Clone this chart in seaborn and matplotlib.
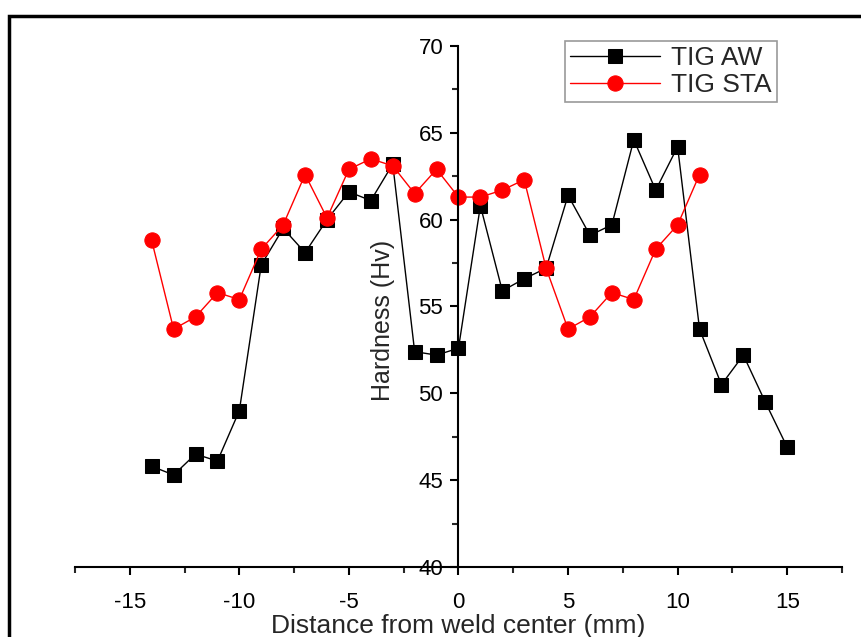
import numpy as np
import pandas as pd
import matplotlib
matplotlib.use("Agg")
import matplotlib.pyplot as plt
import seaborn as sns
from matplotlib.patches import Rectangle
from matplotlib.ticker import MultipleLocator

# Data
aw_distance = list(range(-14, 16))
aw_hardness = [45.8, 45.3, 46.5, 46.1, 49.0, 57.4, 59.5, 58.1, 60.0, 61.6,
               61.1, 63.2, 52.4, 52.2, 52.6, 60.8, 55.9, 56.6, 57.2, 61.4,
               59.1, 59.7, 64.6, 61.7, 64.2, 53.7, 50.5, 52.2, 49.5, 46.9]
sta_distance = list(range(-14, 12))
sta_hardness = [58.8, 53.7, 54.4, 55.8, 55.4, 58.3, 59.7, 62.6, 60.1, 62.9,
                63.5, 63.1, 61.5, 62.9, 61.3, 61.3, 61.7, 62.3, 57.2, 53.7,
                54.4, 55.8, 55.4, 58.3, 59.7, 62.6]

aw = pd.DataFrame({'Distance': aw_distance, 'Hardness': aw_hardness})
sta = pd.DataFrame({'Distance': sta_distance, 'Hardness': sta_hardness})

sns.set_style("ticks")
plt.rcParams['font.family'] = ['Liberation Sans', 'DejaVu Sans']
plt.rcParams['axes.unicode_minus'] = False

fig = plt.figure(figsize=(8.61, 6.37), dpi=100)
ax = fig.add_axes([0.0871, 0.1099, 0.8908, 0.8179])

sns.lineplot(data=aw, x='Distance', y='Hardness', color='black', marker='s',
             markersize=10, linewidth=1, markeredgecolor='black',
             label='TIG AW', ax=ax)
sns.lineplot(data=sta, x='Distance', y='Hardness', color='red', marker='o',
             markersize=11, linewidth=1, markeredgecolor='red',
             label='TIG STA', ax=ax)

ax.set_xlim(-17.5, 17.5)
ax.set_ylim(40, 70)

# axes cross at the weld center
ax.spines['left'].set_position(('data', 0))
ax.spines['top'].set_visible(False)
ax.spines['right'].set_visible(False)
for s in ['left', 'bottom']:
    ax.spines[s].set_linewidth(1.5)
    ax.spines[s].set_color('black')

ax.xaxis.set_major_locator(MultipleLocator(5))
ax.xaxis.set_minor_locator(MultipleLocator(2.5))
ax.yaxis.set_major_locator(MultipleLocator(5))
ax.yaxis.set_minor_locator(MultipleLocator(2.5))
ax.tick_params(which='major', direction='out', length=6, width=1.5,
               labelsize=16, colors='black')
ax.tick_params(which='minor', direction='out', length=4, width=1.5)
ax.tick_params(axis='y', pad=5)
ax.tick_params(axis='x', pad=12)

ax.set_xlabel('Distance from weld center (mm)', fontsize=19, labelpad=1)
ax.set_ylabel('Hardness (Hv)', fontsize=18)
ax.yaxis.set_label_coords(0.417, 0.474)

leg = ax.legend(loc='upper right', bbox_to_anchor=(0.932, 1.035),
                fontsize=19, frameon=True, fancybox=False, handlelength=3.4,
                borderpad=0.2, labelspacing=0.1, handletextpad=0.4)
leg.get_frame().set_edgecolor('gray')
leg.get_frame().set_linewidth(1.2)

# black frame around the picture
fig.patches.append(Rectangle((9 / 861, -0.1), 1.2, 1.1 - 16 / 637,
                             transform=fig.transFigure, fill=False,
                             edgecolor='black', linewidth=2.5))

fig.savefig('out.png', dpi=100)
